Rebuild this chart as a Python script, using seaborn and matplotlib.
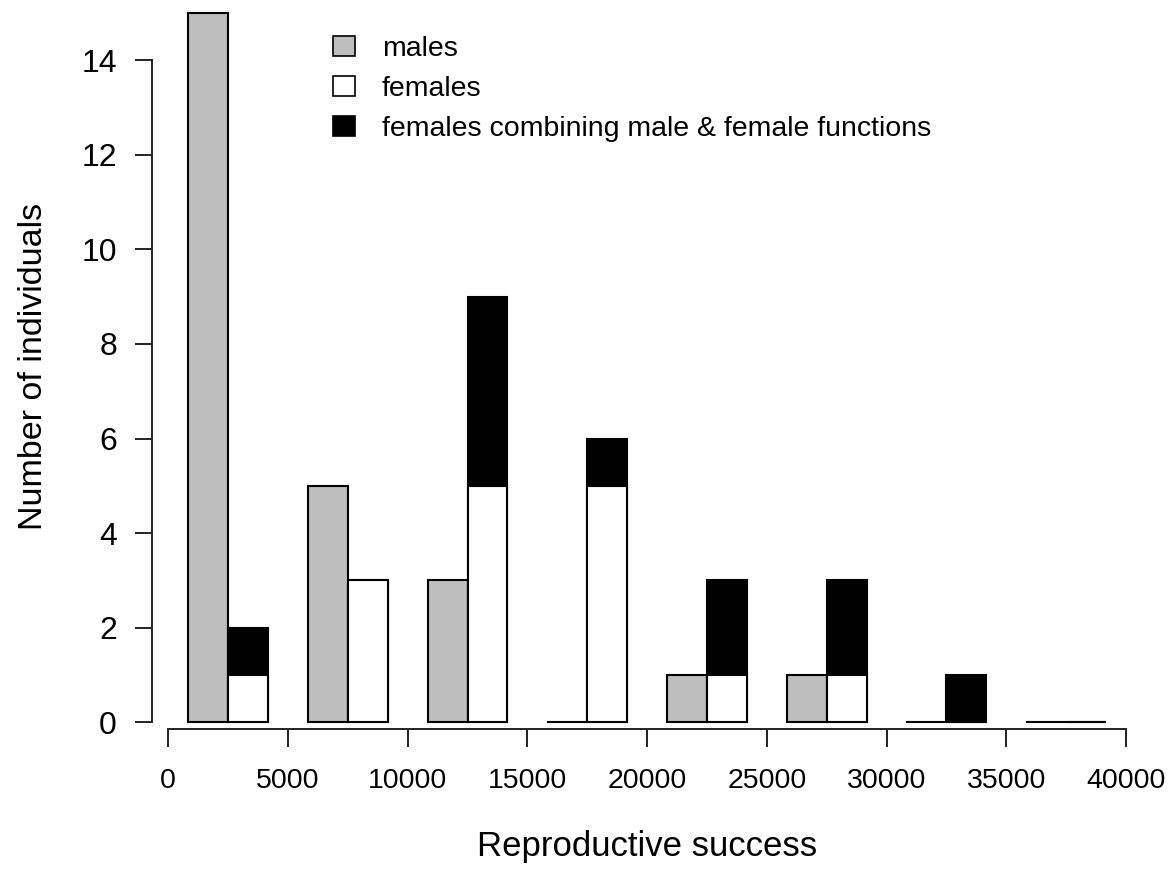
import matplotlib
matplotlib.use("Agg")
import matplotlib.pyplot as plt
from matplotlib.patches import Patch
import numpy as np
import pandas as pd
import seaborn as sns

# Reproductive-success classes (lower edge of each 5000-wide class)
bin_starts = [0, 5000, 10000, 15000, 20000, 25000, 30000, 35000]
bin_width = 5000

# Counts per class
males = [15, 5, 3, 0, 1, 1, 0, 0]
females = [1, 3, 5, 5, 1, 1, 0, 0]
females_combining = [1, 0, 4, 1, 2, 2, 1, 0]

legend_labels = ["males", "females", "females combining male & female functions"]
grey = "#bebebe"

sns.set_style("ticks")
plt.rcParams["font.family"] = ["Liberation Sans", "DejaVu Sans"]
plt.rcParams.update({"text.color": "black", "axes.labelcolor": "black",
                     "xtick.labelcolor": "black", "ytick.labelcolor": "black"})

starts = np.array(bin_starts, dtype=float)
df = pd.DataFrame({
    "male_x": starts + bin_width / 3,
    "female_x": starts + 2 * bin_width / 3,
    "males": males,
    "females": females,
    "female_total": np.array(females) + np.array(females_combining),
})

W, H = 1174, 873
fig = plt.figure(figsize=(W / 100, H / 100), dpi=100)
ax = fig.add_axes([152 / W, 1 - 729 / H, (1142 - 152) / W, (729 - 3) / H])

common = dict(native_scale=True, width=1 / 3, saturation=1, edgecolor="black",
              linewidth=1.5, errorbar=None, orient="x", ax=ax)

# males
sns.barplot(data=df, x="male_x", y="males", color=grey, **common)
# females: full stack in black, plain females overdrawn in white at the base
sns.barplot(data=df, x="female_x", y="female_total", color="black", **common)
sns.barplot(data=df, x="female_x", y="females", color="white", **common)

ax.set_xlim(-680, 40670)
ax.set_ylim(-0.142, 15.21)

for side in ("top", "right"):
    ax.spines[side].set_visible(False)
ax.spines["left"].set_bounds(0, 14)
ax.spines["bottom"].set_bounds(0, 40000)
for side in ("left", "bottom"):
    ax.spines[side].set_linewidth(1.4)
    ax.spines[side].set_color("#222222")

ax.set_yticks(range(0, 15, 2))
ax.set_xticks(range(0, 40001, 5000))
ax.tick_params(axis="y", length=12.2, width=1.4, color="#222222", labelsize=23, pad=13)
ax.tick_params(axis="x", length=13, width=1.4, color="#222222", labelsize=20.5, pad=15)

ax.set_xlabel("Reproductive success", fontsize=25, labelpad=26)
ax.set_ylabel("Number of individuals", fontsize=24.5, labelpad=23)

handles = [Patch(facecolor=grey, edgecolor="black", linewidth=1.2),
           Patch(facecolor="white", edgecolor="black", linewidth=1.2),
           Patch(facecolor="black", edgecolor="black", linewidth=1.2)]
fig.legend(handles, legend_labels, loc="upper left",
           bbox_to_anchor=(333 / W, 1 - 36 / H), bbox_transform=fig.transFigure,
           frameon=False, fontsize=20.5, handlelength=0.77, handleheight=0.66,
           handletextpad=0.94, labelspacing=0.49, borderpad=0, borderaxespad=0)

fig.savefig("out.png", dpi=100)
